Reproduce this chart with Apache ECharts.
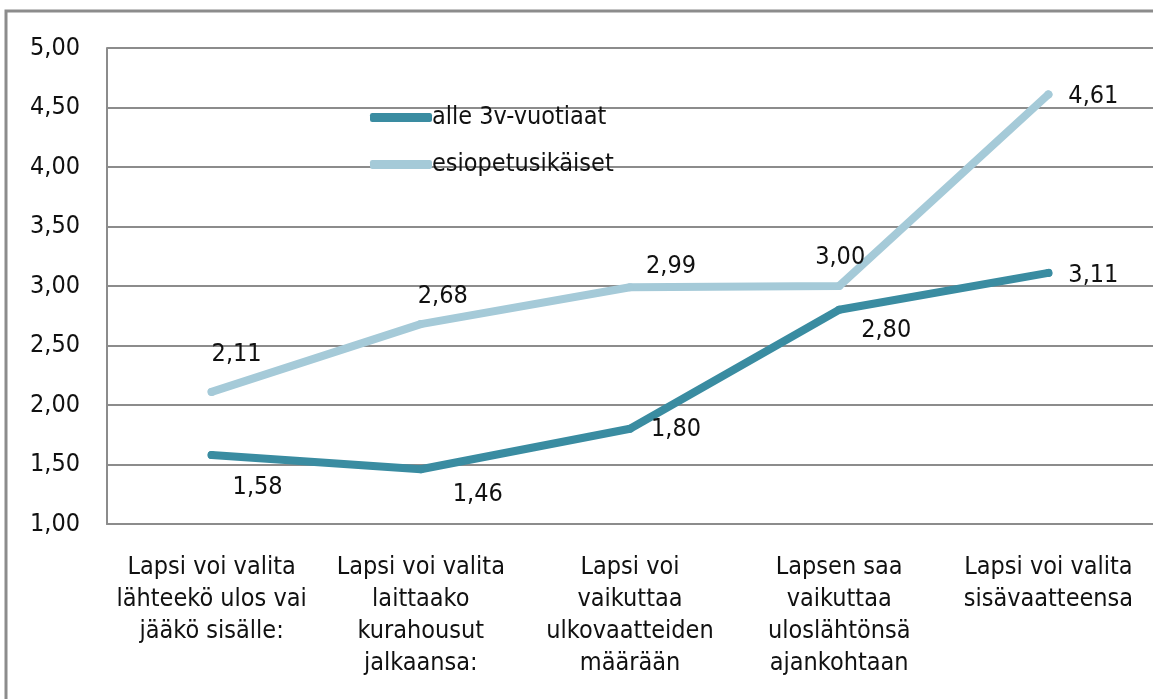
<!DOCTYPE html>
<html>
<head>
<meta charset="utf-8">
<script src="https://cdn.jsdelivr.net/npm/echarts@6/dist/echarts.min.js"></script>
<style>
  html, body { margin: 0; padding: 0; background: #fff; }
  #chart { width: 1153px; height: 699px; }
</style>
</head>
<body>
<div id="chart"></div>
<script>
// kategoriat (rivinvaihdot kuten alkuperäisessä)
const categories = [
  "Lapsi voi valita\nlähteekö ulos vai\njääkö sisälle:",
  "Lapsi voi valita\nlaittaako\nkurahousut\njalkaansa:",
  "Lapsi voi\nvaikuttaa\nulkovaatteiden\nmäärään",
  "Lapsen saa\nvaikuttaa\nuloslähtönsä\najankohtaan",
  "Lapsi voi valita\nsisävaatteensa"
];
const seriesNames = ["alle 3v-vuotiaat", "esiopetusikäiset"];
const alle3 = [1.58, 1.46, 1.80, 2.80, 3.11];
const esiopetus = [2.11, 2.68, 2.99, 3.00, 4.61];
const yTicks = { min: 1, max: 5, interval: 0.5 };

const FONT = "'DejaVu Sans Condensed', sans-serif";
const fmt = v => v.toFixed(2).replace(".", ",");

// label offsets per point [x, y]
const alleOffsets = [[46, 37], [57, 29], [46, 5], [47, 25], [45, 7]];
const esiOffsets = [[25, -33], [22, -24], [41, -17], [1, -25], [45, 6]];

const chart = echarts.init(document.getElementById("chart"));

function mkData(vals, offs) {
  return vals.map((v, i) => ({
    value: v,
    label: { offset: offs[i] }
  }));
}

const labelBase = {
  show: true, position: "top", distance: 0, align: "center", verticalAlign: "middle",
  fontFamily: FONT, fontSize: 25, color: "#111",
  formatter: p => fmt(p.value)
};

const option = {
  backgroundColor: "#fff",
  animation: false,
  grid: { left: 107, right: -6, top: 48, bottom: 175 },
  graphic: [{
    type: "rect",
    shape: { x: 6, y: 11, width: 1170, height: 720 },
    style: { fill: "none", stroke: "#8c8c8c", lineWidth: 3 },
    silent: true
  }],
  legend: {
    orient: "vertical",
    left: 365, top: 100,
    itemWidth: 62, itemHeight: 9, itemGap: 22,
    icon: "roundRect",
    textStyle: { fontFamily: FONT, fontSize: 25, color: "#111", padding: [0, 0, 0, -5] },
    data: seriesNames
  },
  xAxis: {
    type: "category",
    data: categories,
    boundaryGap: true,
    axisLine: { lineStyle: { color: "#8c8c8c", width: 2 } },
    axisTick: { show: false },
    axisLabel: {
      interval: 0, margin: 27, fontFamily: FONT, fontSize: 25,
      color: "#111", lineHeight: 32, align: "center", verticalAlign: "top"
    }
  },
  yAxis: {
    type: "value",
    min: yTicks.min, max: yTicks.max, interval: yTicks.interval,
    axisLine: { show: true, lineStyle: { color: "#8c8c8c", width: 2 } },
    axisTick: { show: false },
    splitLine: { lineStyle: { color: "#8c8c8c", width: 2 } },
    axisLabel: { margin: 27, fontFamily: FONT, fontSize: 25, color: "#111", formatter: fmt }
  },
  series: [
    {
      name: seriesNames[0],
      type: "line",
      data: mkData(alle3, alleOffsets),
      symbol: "circle",
      symbolSize: 8,
      showSymbol: true,
      color: "#3a8ca1",
      lineStyle: { width: 8, cap: "round", join: "round" },
      label: labelBase
    },
    {
      name: seriesNames[1],
      type: "line",
      data: mkData(esiopetus, esiOffsets),
      symbol: "circle",
      symbolSize: 8,
      showSymbol: true,
      color: "#a5cad8",
      lineStyle: { width: 8, cap: "round", join: "round" },
      label: labelBase
    }
  ]
};

chart.setOption(option);
</script>
</body>
</html>
